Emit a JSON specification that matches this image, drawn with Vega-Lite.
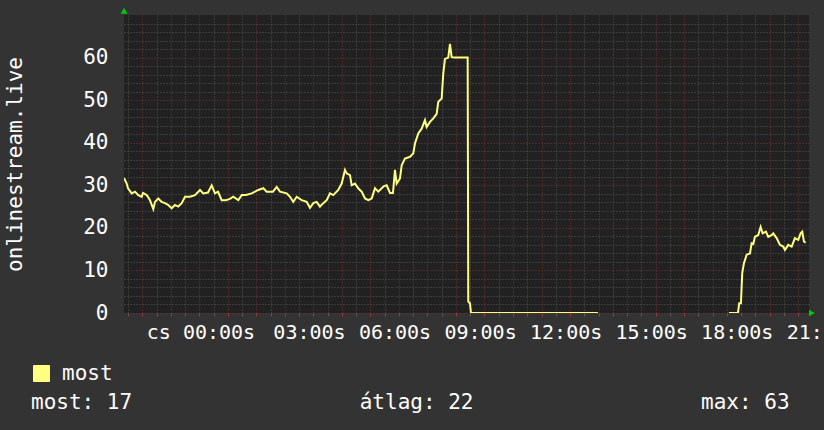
{
  "$schema": "https://vega.github.io/schema/vega-lite/v6.json",
  "width": 685,
  "height": 298,
  "autosize": {"type": "none"},
  "padding": {"left": 124, "top": 15, "right": 15, "bottom": 117},
  "background": "#333333",
  "config": {
    "view": {"fill": "#212121", "stroke": null},
    "font": "DejaVu Sans Mono"
  },
  "datasets": {
    "series": [
      {"h": -2.64, "v": 31.7}, {"h": -2.546, "v": 30.4}, {"h": -2.5, "v": 29.3}, {"h": -2.37, "v": 28.1},
      {"h": -2.255, "v": 28.5}, {"h": -2.139, "v": 27.7}, {"h": -2.02, "v": 27.3}, {"h": -1.974, "v": 28.2},
      {"h": -1.844, "v": 27.7}, {"h": -1.729, "v": 26.5}, {"h": -1.613, "v": 24.4}, {"h": -1.553, "v": 26.1},
      {"h": -1.438, "v": 26.9}, {"h": -1.318, "v": 26.1}, {"h": -1.203, "v": 25.8}, {"h": -1.097, "v": 25.4},
      {"h": -0.968, "v": 24.6}, {"h": -0.852, "v": 25.4}, {"h": -0.736, "v": 25.0}, {"h": -0.617, "v": 25.8},
      {"h": -0.501, "v": 27.3}, {"h": -0.326, "v": 27.3}, {"h": -0.151, "v": 27.7}, {"h": 0.025, "v": 28.9},
      {"h": 0.14, "v": 28.1}, {"h": 0.305, "v": 28.3}, {"h": 0.435, "v": 30.0}, {"h": 0.55, "v": 28.1},
      {"h": 0.656, "v": 28.5}, {"h": 0.785, "v": 26.5}, {"h": 0.936, "v": 26.5}, {"h": 1.076, "v": 26.8},
      {"h": 1.192, "v": 27.3}, {"h": 1.367, "v": 26.5}, {"h": 1.487, "v": 27.7}, {"h": 1.637, "v": 27.7},
      {"h": 1.837, "v": 28.1}, {"h": 2.069, "v": 28.9}, {"h": 2.244, "v": 29.3}, {"h": 2.363, "v": 28.5},
      {"h": 2.584, "v": 28.5}, {"h": 2.714, "v": 29.6}, {"h": 2.83, "v": 28.5}, {"h": 3.065, "v": 28.1},
      {"h": 3.18, "v": 27.3}, {"h": 3.296, "v": 26.1}, {"h": 3.415, "v": 27.3}, {"h": 3.59, "v": 26.5},
      {"h": 3.766, "v": 26.1}, {"h": 3.881, "v": 24.7}, {"h": 3.997, "v": 25.8}, {"h": 4.116, "v": 26.1},
      {"h": 4.232, "v": 25.0}, {"h": 4.348, "v": 25.8}, {"h": 4.467, "v": 26.5}, {"h": 4.583, "v": 28.1},
      {"h": 4.698, "v": 27.7}, {"h": 4.874, "v": 28.9}, {"h": 4.993, "v": 30.4}, {"h": 5.109, "v": 33.6},
      {"h": 5.168, "v": 32.8}, {"h": 5.284, "v": 32.4}, {"h": 5.344, "v": 30.0}, {"h": 5.459, "v": 30.4},
      {"h": 5.575, "v": 29.3}, {"h": 5.694, "v": 28.5}, {"h": 5.81, "v": 26.9}, {"h": 5.926, "v": 26.5},
      {"h": 6.045, "v": 26.9}, {"h": 6.161, "v": 29.3}, {"h": 6.276, "v": 28.5}, {"h": 6.396, "v": 29.3},
      {"h": 6.476, "v": 29.8}, {"h": 6.571, "v": 30.0}, {"h": 6.687, "v": 28.2}, {"h": 6.792, "v": 28.2},
      {"h": 6.862, "v": 33.6}, {"h": 6.921, "v": 30.4}, {"h": 7.037, "v": 31.6}, {"h": 7.097, "v": 34.7},
      {"h": 7.212, "v": 36.3}, {"h": 7.388, "v": 36.7}, {"h": 7.504, "v": 37.5}, {"h": 7.563, "v": 39.8},
      {"h": 7.679, "v": 42.2}, {"h": 7.798, "v": 43.3}, {"h": 7.914, "v": 45.3}, {"h": 7.973, "v": 43.7},
      {"h": 8.089, "v": 44.9}, {"h": 8.205, "v": 45.7}, {"h": 8.324, "v": 46.8}, {"h": 8.38, "v": 49.6},
      {"h": 8.499, "v": 50.4}, {"h": 8.555, "v": 56.2}, {"h": 8.615, "v": 59.7}, {"h": 8.731, "v": 60.0},
      {"h": 8.79, "v": 63.2}, {"h": 8.85, "v": 60.1}, {"h": 8.966, "v": 60.0}, {"h": 9.141, "v": 60.0},
      {"h": 9.411, "v": 60.0}, {"h": 9.432, "v": 2.7}, {"h": 9.492, "v": 2.3}, {"h": 9.527, "v": 0},
      {"h": 11.595, "v": 0}, {"h": 13.98, "v": 0}, {"h": 14.05, "v": null}, {"h": 18.5, "v": null},
      {"h": 18.573, "v": 0}, {"h": 18.888, "v": 0}, {"h": 18.934, "v": 2.3}, {"h": 18.993, "v": 2.3},
      {"h": 19.039, "v": 9.4}, {"h": 19.099, "v": 11.7}, {"h": 19.194, "v": 13.7}, {"h": 19.31, "v": 14.0},
      {"h": 19.369, "v": 16.4}, {"h": 19.425, "v": 16.2}, {"h": 19.485, "v": 17.9}, {"h": 19.6, "v": 18.3},
      {"h": 19.684, "v": 20.2}, {"h": 19.755, "v": 18.7}, {"h": 19.87, "v": 19.1}, {"h": 19.951, "v": 17.9},
      {"h": 20.07, "v": 18.3}, {"h": 20.126, "v": 18.7}, {"h": 20.245, "v": 17.6}, {"h": 20.361, "v": 16.0},
      {"h": 20.477, "v": 15.6}, {"h": 20.536, "v": 14.8}, {"h": 20.652, "v": 16.0}, {"h": 20.771, "v": 15.6},
      {"h": 20.887, "v": 17.6}, {"h": 21.003, "v": 17.2}, {"h": 21.087, "v": 18.7}, {"h": 21.143, "v": 19.1},
      {"h": 21.203, "v": 16.8}, {"h": 21.262, "v": 16.5}
    ],
    "arrows": [
      {"h": -2.64, "v": 71.0, "dir": "up"},
      {"h": 21.48, "v": 0, "dir": "right"}
    ]
  },
  "encoding": {
    "x": {
      "field": "h", "type": "quantitative",
      "scale": {"domain": [-2.64, 21.38], "nice": false, "zero": false},
      "axis": {
        "title": null,
        "domain": false,
        "values": [-2.5, -2, -1.5, -1, -0.5, 0, 0.5, 1, 1.5, 2, 2.5, 3, 3.5, 4, 4.5, 5, 5.5, 6, 6.5, 7, 7.5, 8, 8.5, 9, 9.5, 10, 10.5, 11, 11.5, 12, 12.5, 13, 13.5, 14, 14.5, 15, 15.5, 16, 16.5, 17, 17.5, 18, 18.5, 19, 19.5, 20, 20.5, 21],
        "labelExpr": "datum.value == 0 ? 'cs 00:00s' : datum.value == 21 ? '21:' : (datum.value % 3 == 0 ? (datum.value < 10 ? '0' : '') + datum.value + ':00s' : '')",
        "labelAlign": "left",
        "labelOffset": {"condition": {"test": "datum.value == 0", "value": -53}, "value": -12},
        "labelFont": "DejaVu Sans Mono",
        "labelFontSize": 20,
        "labelColor": "#ffffff",
        "labelPadding": 6,
        "labelOverlap": false,
        "labelFlush": false,
        "labelBound": false,
        "grid": true,
        "gridColor": {"condition": {"test": "datum.value % 1 == 0", "value": "#7a3232"}, "value": "#575757"},
        "gridDash": [1, 2],
        "gridWidth": 1,
        "ticks": true,
        "tickSize": 3,
        "tickColor": {"condition": {"test": "datum.value % 1 == 0", "value": "#a03a3a"}, "value": "#5a5a5a"}
      }
    },
    "y": {
      "field": "v", "type": "quantitative",
      "scale": {"domain": [0, 70], "nice": false},
      "axis": {
        "title": "onlinestream.live",
        "titleFont": "DejaVu Sans Mono",
        "titleFontSize": 21,
        "titleFontWeight": "normal",
        "titleColor": "#ffffff",
        "titlePadding": 57,
        "domain": false,
        "ticks": false,
        "tickSize": 0,
        "values": [0, 2, 4, 6, 8, 10, 12, 14, 16, 18, 20, 22, 24, 26, 28, 30, 32, 34, 36, 38, 40, 42, 44, 46, 48, 50, 52, 54, 56, 58, 60, 62, 64, 66, 68],
        "labelExpr": "datum.value % 10 == 0 ? datum.label : ''",
        "labelFont": "DejaVu Sans Mono",
        "labelFontSize": 21,
        "labelColor": "#ffffff",
        "labelPadding": 16,
        "labelOverlap": false,
        "grid": true,
        "gridColor": {"condition": {"test": "datum.value % 10 == 0", "value": "#7a3232"}, "value": "#575757"},
        "gridDash": [1, 2],
        "gridWidth": 1
      }
    }
  },
  "layer": [
    {
      "data": {"name": "series"},
      "mark": {"type": "line", "color": "#ffff80", "strokeWidth": 2, "clip": true},
      "encoding": {
        "color": {
          "datum": "most",
          "scale": {"range": ["#ffff80"]},
          "legend": {
            "orient": "none",
            "legendX": -93,
            "legendY": 348,
            "title": "most: 17\u00a0\u00a0\u00a0\u00a0\u00a0\u00a0\u00a0\u00a0\u00a0\u00a0\u00a0\u00a0\u00a0\u00a0\u00a0\u00a0\u00a0\u00a0átlag: 22\u00a0\u00a0\u00a0\u00a0\u00a0\u00a0\u00a0\u00a0\u00a0\u00a0\u00a0\u00a0\u00a0\u00a0\u00a0\u00a0\u00a0\u00a0max: 63",
            "titleOrient": "bottom",
            "titleAnchor": "start",
            "titleFont": "DejaVu Sans Mono",
            "titleFontSize": 21,
            "titleFontWeight": "normal",
            "titleColor": "#ffffff",
            "titleLimit": 1000,
            "titlePadding": 8,
            "labelFont": "DejaVu Sans Mono",
            "labelFontSize": 21,
            "labelColor": "#ffffff",
            "labelOffset": 10,
            "labelLimit": 300,
            "symbolType": "square",
            "symbolSize": 256,
            "padding": 0,
            "encode": {
              "symbols": {
                "update": {
                  "fill": {"value": "#ffff80"},
                  "stroke": {"value": "#000000"},
                  "strokeWidth": {"value": 1},
                  "shape": {"value": "square"}
                }
              }
            }
          }
        }
      }
    },
    {
      "data": {"name": "arrows"},
      "mark": {"type": "point", "filled": true, "color": "#00cc00", "size": 45, "opacity": 1},
      "encoding": {
        "shape": {
          "field": "dir", "type": "nominal",
          "scale": {"domain": ["up", "right"], "range": ["triangle-up", "triangle-right"]},
          "legend": null
        }
      }
    }
  ]
}
